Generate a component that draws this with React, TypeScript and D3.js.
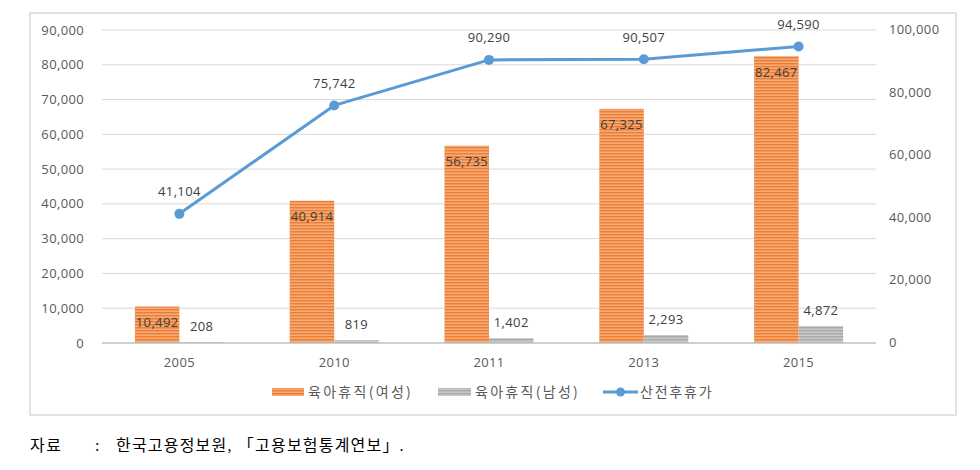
import React from "react";
import * as d3 from "d3";

const categories = ["2005", "2010", "2011", "2013", "2015"];
const femaleLeave = [10492, 40914, 56735, 67325, 82467];
const maleLeave = [208, 819, 1402, 2293, 4872];
const maternityLeave = [41104, 75742, 90290, 90507, 94590];
const leftTicks = [0, 10000, 20000, 30000, 40000, 50000, 60000, 70000, 80000, 90000];
const rightTicks = [0, 20000, 40000, 60000, 80000, 100000];
const legendLabels = ["육아휴직(여성)", "육아휴직(남성)", "산전후휴가"];
const sourceLabel = "자료";
const sourceText = "한국고용정보원, 「고용보험통계연보」.";

const W = 980;
const H = 470;
const plotLeft = 102;
const plotRight = 876;
const plotTop = 30;
const plotBottom = 343;

const fmt = d3.format(",");
const FONT = "'Open Sans', 'Noto Sans CJK KR', sans-serif";
const KFONT = "'Noto Sans CJK KR', sans-serif";
const SFONT = "'Liberation Serif', 'Noto Sans CJK KR', serif";
const NS = 13;
const NLS = 0.35;

export default function App() {
  const x = d3.scaleBand<string>().domain(categories).range([plotLeft, plotRight]).paddingInner(0).paddingOuter(0);
  const yL = d3.scaleLinear().domain([0, 90000]).range([plotBottom, plotTop]);
  const yR = d3.scaleLinear().domain([0, 100000]).range([plotBottom - 0.5, plotTop - 0.5]);
  const barW = 44.5;
  const cx = (c: string) => (x(c) as number) + x.bandwidth() / 2;
  const line = d3
    .line<number>()
    .x((_, i) => cx(categories[i]))
    .y((d) => yR(d));

  return (
    <svg width={W} height={H} style={{ position: "absolute", left: 0, top: 0, background: "#fff" }}>
      <defs>
        <pattern id="orangeP" width="6" height="3" patternUnits="userSpaceOnUse">
          <rect x="0" y="0" width="6" height="3" fill="#ED7D31" />
          <rect x="0" y="1.6" width="6" height="1.1" fill="#F7BE98" />
        </pattern>
        <pattern id="grayP" width="6" height="3" patternUnits="userSpaceOnUse">
          <rect x="0" y="0" width="6" height="3" fill="#A9A9A9" />
          <rect x="0" y="1.6" width="6" height="1.1" fill="#D6D6D6" />
        </pattern>
      </defs>
      <rect x={30} y={13} width={926} height={402} fill="#fff" stroke="#D9D9D9" strokeWidth={1.5} />

      {leftTicks.map((t) => (
        <g key={"l" + t}>
          {t > 0 && (
            <line x1={plotLeft} x2={plotRight} y1={yL(t)} y2={yL(t)} stroke="#D9D9D9" strokeWidth={1} />
          )}
          <text x={84} y={yL(t)} dy="0.35em" textAnchor="end" fontSize={NS} letterSpacing={NLS} fill="#595959" fontFamily={FONT}>
            {fmt(t)}
          </text>
        </g>
      ))}
      {rightTicks.map((t) => (
        <text key={"r" + t} x={889} y={yR(t)} dy="0.35em" textAnchor="start" fontSize={NS} letterSpacing={NLS} fill="#595959" fontFamily={FONT}>
          {fmt(t)}
        </text>
      ))}

      {categories.map((c, i) => (
        <g key={c}>
          <rect x={cx(c) - barW} y={yL(femaleLeave[i])} width={barW} height={plotBottom - yL(femaleLeave[i])} fill="url(#orangeP)" />
          <rect x={cx(c)} y={yL(maleLeave[i])} width={barW} height={plotBottom - yL(maleLeave[i])} fill="url(#grayP)" />
        </g>
      ))}

      <line x1={plotLeft} x2={plotRight} y1={plotBottom} y2={plotBottom} stroke="#BFBFBF" strokeWidth={1.5} />

      {categories.map((c, i) => (
        <g key={"lab" + c}>
          <text x={cx(c) - barW / 2} y={yL(femaleLeave[i]) + 16} dy="0.35em" textAnchor="middle" fontSize={NS} letterSpacing={NLS} fill="#404040" fontFamily={FONT}>
            {fmt(femaleLeave[i])}
          </text>
          <text x={cx(c) + barW / 2} y={yL(maleLeave[i]) - 16} dy="0.35em" textAnchor="middle" fontSize={NS} letterSpacing={NLS} fill="#404040" fontFamily={FONT}>
            {fmt(maleLeave[i])}
          </text>
          <text x={cx(c)} y={362} dy="0.35em" textAnchor="middle" fontSize={NS} letterSpacing={NLS} fill="#595959" fontFamily={FONT}>
            {c}
          </text>
        </g>
      ))}

      <path d={line(maternityLeave) as string} fill="none" stroke="#5B9BD5" strokeWidth={3} strokeLinejoin="round" />
      {categories.map((c, i) => (
        <g key={"pt" + c}>
          <circle cx={cx(c)} cy={yR(maternityLeave[i])} r={5} fill="#5B9BD5" />
          <text x={cx(c)} y={yR(maternityLeave[i]) - 22} dy="0.35em" textAnchor="middle" fontSize={NS} letterSpacing={NLS} fill="#404040" fontFamily={FONT}>
            {fmt(maternityLeave[i])}
          </text>
        </g>
      ))}

      {/* legend */}
      <g>
        <rect x={272} y={388} width={32} height={8} fill="url(#orangeP)" />
        <text x={308} y={392} dy="0.35em" fontSize={14} letterSpacing={2.3} fill="#595959" fontFamily={KFONT}>
          {legendLabels[0]}
        </text>
        <rect x={438} y={388} width={33} height={8} fill="url(#grayP)" />
        <text x={475} y={392} dy="0.35em" fontSize={14} letterSpacing={2.3} fill="#595959" fontFamily={KFONT}>
          {legendLabels[1]}
        </text>
        <line x1={603} x2={638} y1={392} y2={392} stroke="#5B9BD5" strokeWidth={3} />
        <circle cx={620.5} cy={392} r={4.5} fill="#5B9BD5" />
        <text x={640} y={392} dy="0.35em" fontSize={14} letterSpacing={1.8} fill="#595959" fontFamily={KFONT}>
          {legendLabels[2]}
        </text>
      </g>

      {/* source */}
      <text x={30} y={445} dy="0.35em" fontSize={16} letterSpacing={1.5} fill="#000" fontFamily={SFONT}>
        {sourceLabel}
      </text>
      <text x={95} y={445} dy="0.35em" fontSize={16} fill="#000" fontFamily={SFONT}>
        :
      </text>
      <text x={116} y={445} dy="0.35em" fontSize={16} letterSpacing={1.2} fill="#000" fontFamily={SFONT}>
        {sourceText}
      </text>
    </svg>
  );
}
